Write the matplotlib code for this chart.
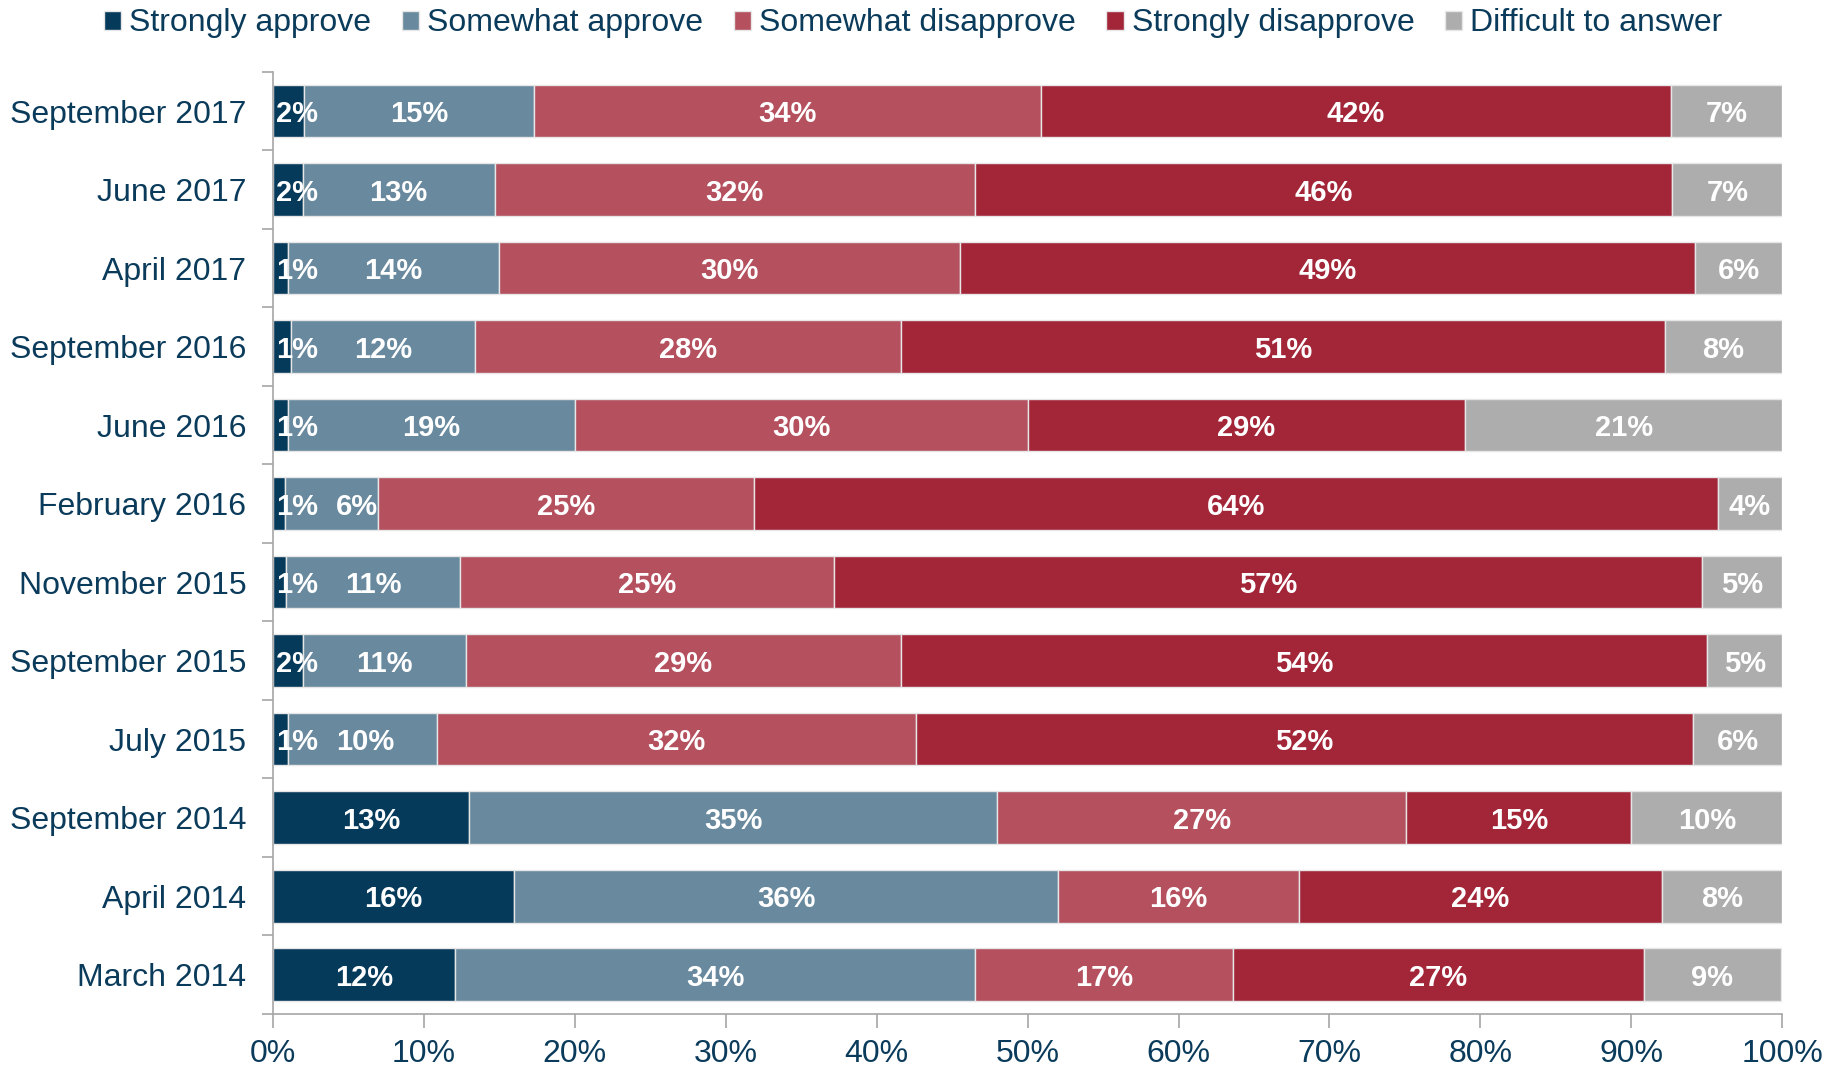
import numpy as np
import matplotlib
matplotlib.use('Agg')
import matplotlib.pyplot as plt
from matplotlib.ticker import FixedLocator, PercentFormatter

plt.rcParams['font.family'] = ['Liberation Sans', 'DejaVu Sans']

periods = ['September 2017', 'June 2017', 'April 2017', 'September 2016',
           'June 2016', 'February 2016', 'November 2015', 'September 2015',
           'July 2015', 'September 2014', 'April 2014', 'March 2014']

series = ['Strongly approve', 'Somewhat approve', 'Somewhat disapprove',
          'Strongly disapprove', 'Difficult to answer']

# segment widths (%)
strongly_approve = [2.1, 2.0, 1.0, 1.2, 1.0, 0.8, 0.9, 2.0, 1.0, 13.0, 16.0, 12.1]
somewhat_approve = [15.2, 12.7, 14.0, 12.2, 19.0, 6.2, 11.5, 10.8, 9.9, 35.0, 36.0, 34.4]
somewhat_disapprove = [33.6, 31.8, 30.5, 28.2, 30.0, 24.9, 24.8, 28.8, 31.7, 27.1, 16.0, 17.1]
strongly_disapprove = [41.7, 46.2, 48.7, 50.6, 29.0, 63.8, 57.5, 53.4, 51.5, 14.9, 24.0, 27.2]
difficult = [7.4, 7.3, 5.8, 7.8, 21.0, 4.3, 5.3, 5.0, 5.9, 10.0, 8.0, 9.1]

# printed labels (%)
lab_sa = [2, 2, 1, 1, 1, 1, 1, 2, 1, 13, 16, 12]
lab_wa = [15, 13, 14, 12, 19, 6, 11, 11, 10, 35, 36, 34]
lab_wd = [34, 32, 30, 28, 30, 25, 25, 29, 32, 27, 16, 17]
lab_sd = [42, 46, 49, 51, 29, 64, 57, 54, 52, 15, 24, 27]
lab_dk = [7, 7, 6, 8, 21, 4, 5, 5, 6, 10, 8, 9]

colors = ['#053a5b', '#68899e', '#b5505e', '#a22638', '#adadad']
navy = '#0b3b5b'
axis_gray = '#a6a6a6'

values = [strongly_approve, somewhat_approve, somewhat_disapprove,
          strongly_disapprove, difficult]
labels = [lab_sa, lab_wa, lab_wd, lab_sd, lab_dk]

fig = plt.figure(figsize=(18.3, 10.67), dpi=100)
ax = fig.add_axes([0.149, 0.0497, 0.825, 0.883])
ax.set_xlim(0, 100)
ax.set_ylim(len(periods) - 0.5, -0.5)
renderer = fig.canvas.get_renderer()

y = np.arange(len(periods))
left = np.zeros(len(periods))
prev_right = np.full(len(periods), -np.inf)  # right edge of previous label
for name, vals, labs, col in zip(series, values, labels, colors):
    vals = np.array(vals)
    ax.barh(y, vals, left=left, height=0.67, color=col,
            edgecolor='#e6e6e6', linewidth=1, label=name)
    for i in range(len(periods)):
        t = ax.text(0, y[i], f'{labs[i]}%', ha='center', va='center_baseline',
                    color='white', fontsize=21, fontweight='bold')
        bb = t.get_window_extent(renderer).transformed(ax.transData.inverted())
        half = (bb.x1 - bb.x0) / 2
        cx = left[i] + vals[i] / 2
        if left[i] == 0 and vals[i] < 3:
            cx = left[i] + 0.2 + half
        cx = max(cx, prev_right[i] + 1.2 + half)
        t.set_x(cx)
        prev_right[i] = cx + half
    left += vals

ax.set_yticks(y)
ax.set_yticklabels(periods)
ax.yaxis.set_minor_locator(FixedLocator(np.arange(-0.5, len(periods), 1.0)))
ax.tick_params(axis='y', which='major', length=0, pad=19, labelsize=23,
               labelcolor=navy)
ax.tick_params(axis='y', which='minor', length=8, color=axis_gray, width=1.2)

ax.set_xticks(np.arange(0, 101, 10))
ax.xaxis.set_major_formatter(PercentFormatter(decimals=0))
ax.tick_params(axis='x', length=10, color=axis_gray, width=1.2, labelsize=23,
               labelcolor=navy, pad=8)

for s in ['top', 'right']:
    ax.spines[s].set_visible(False)
for s in ['left', 'bottom']:
    ax.spines[s].set_color(axis_gray)
    ax.spines[s].set_linewidth(1.2)

fig.legend(loc='center', bbox_to_anchor=(0.499, 0.978), ncol=5, frameon=False,
           fontsize=23, labelcolor=navy, handlelength=0.55, handleheight=0.55,
           handletextpad=0.25, columnspacing=0.95, borderaxespad=0)

fig.savefig('out.png', dpi=100)
